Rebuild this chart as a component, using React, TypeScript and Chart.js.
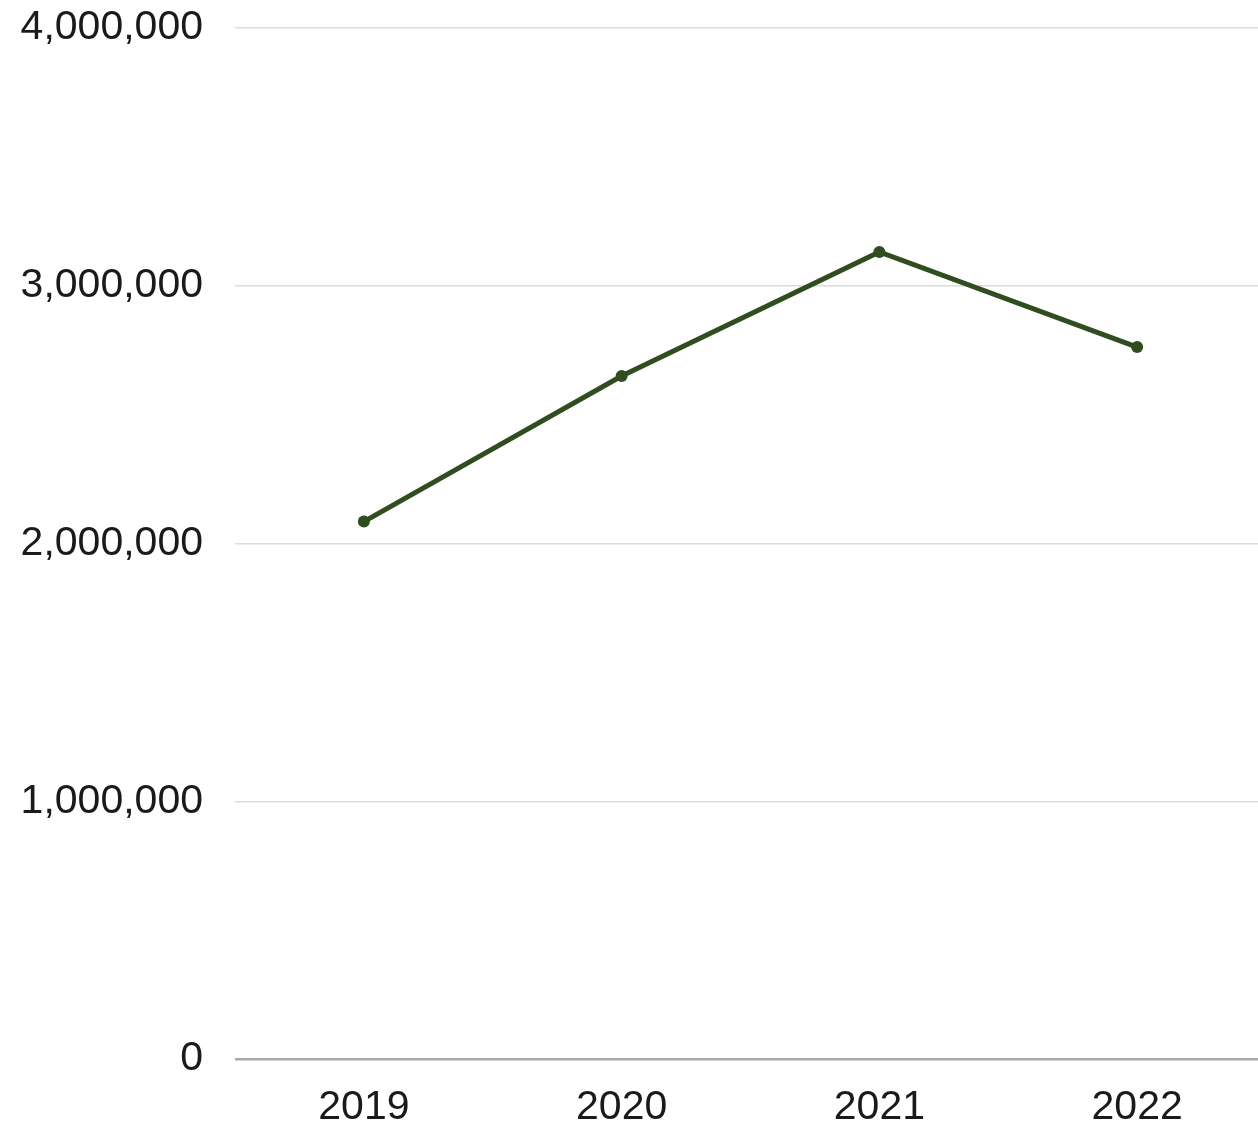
import React, { useEffect, useRef } from "react";
import { Chart, registerables } from "chart.js";

Chart.register(...registerables);

const years = ["2019", "2020", "2021", "2022"];
const totals = [2085000, 2650000, 3131000, 2762000];
const yTicks = [0, 1000000, 2000000, 3000000, 4000000];

const LINE_COLOR = "#2f4d1f";
const FONT = "'Liberation Sans', Arial, sans-serif";

export default function App() {
  const canvasRef = useRef<HTMLCanvasElement | null>(null);

  useEffect(() => {
    if (!canvasRef.current) return;
    const chart = new Chart(canvasRef.current, {
      type: "line",
      data: {
        labels: years,
        datasets: [
          {
            data: totals,
            borderColor: LINE_COLOR,
            backgroundColor: LINE_COLOR,
            borderWidth: 5,
            pointRadius: 6,
            pointBackgroundColor: LINE_COLOR,
            pointBorderWidth: 0,
            tension: 0,
          },
        ],
      },
      options: {
        animation: false,
        responsive: false,
        maintainAspectRatio: false,
        layout: { padding: { top: 28, right: 0, bottom: 0, left: 0 } },
        plugins: {
          legend: { display: false },
          tooltip: { enabled: false },
        },
        scales: {
          x: {
            type: "category",
            offset: true,
            grid: { display: false, drawTicks: false },
            border: { display: false },
            ticks: {
              color: "#1a1a1a",
              padding: 24,
              font: { family: FONT, size: 41 },
            },
            afterFit: (scale: any) => {
              scale.height = 64;
              scale.paddingLeft = 0;
              scale.paddingRight = 0;
            },
          },
          y: {
            min: 0,
            max: 4000000,
            afterBuildTicks: (scale: any) => {
              scale.ticks = yTicks.map((v) => ({ value: v }));
            },
            grid: {
              drawTicks: false,
              color: (ctx: any) => (ctx.tick && ctx.tick.value === 0 ? "#a9a9a9" : "#dcdcdc"),
              lineWidth: (ctx: any) => (ctx.tick && ctx.tick.value === 0 ? 2.5 : 1.5),
            },
            border: { display: false },
            ticks: {
              color: "#1a1a1a",
              padding: 32,
              font: { family: FONT, size: 41 },
              callback: (v: any) => Number(v).toLocaleString("en-US"),
            },
            afterFit: (scale: any) => {
              scale.width = 235;
              scale.paddingTop = 0;
              scale.paddingBottom = 0;
            },
          },
        },
      },
    });
    return () => chart.destroy();
  }, []);

  return (
    <div
      style={{
        position: "fixed",
        left: 0,
        top: 0,
        width: 1258,
        height: 1123,
        overflow: "hidden",
        background: "#ffffff",
      }}
    >
      <canvas ref={canvasRef} width={1272} height={1123} style={{ display: "block" }} />
    </div>
  );
}
